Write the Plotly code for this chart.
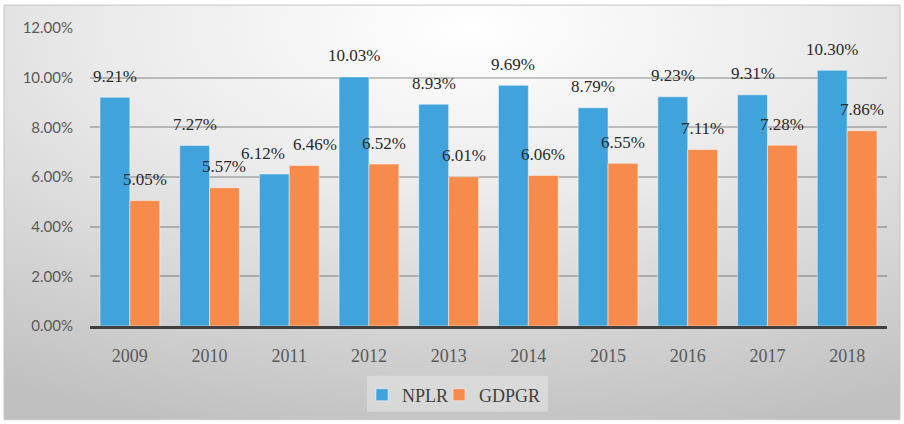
import base64
import plotly.graph_objects as go

# Yearly ratios, in percent
years = ["2009", "2010", "2011", "2012", "2013", "2014", "2015", "2016", "2017", "2018"]
nplr = [9.21, 7.27, 6.12, 10.03, 8.93, 9.69, 8.79, 9.23, 9.31, 10.30]
gdpgr = [5.05, 5.57, 6.46, 6.52, 6.01, 6.06, 6.55, 7.11, 7.28, 7.86]
y_ticks = [0, 2, 4, 6, 8, 10, 12]

W, H = 904, 424
ML, MR, MT, MB = 90, 17, 28, 97
PW, PH = W - ML - MR, H - MT - MB

BLUE = "#40a3db"
ORANGE = "#f68b4b"
SERIF = "Liberation Serif"


def px(x):
    return (x - ML) / PW


def py(y):
    return (H - MB - y) / PH


fig = go.Figure()
for name, vals, col, leg in (("NPLR", nplr, BLUE, "legend"), ("GDPGR", gdpgr, ORANGE, "legend2")):
    fig.add_trace(go.Bar(
        x=years, y=[v / 100 for v in vals], name=name, legend=leg,
        marker=dict(color=col, line=dict(color="rgba(255,255,255,0.6)", width=0.8)),
        hoverinfo="skip",
    ))

# value labels above each bar; labels of near-equal pairs are pushed apart
cat_w = PW / len(years)
bar_off = cat_w * (1 - 0.25) / 4
for i, (a, b) in enumerate(zip(nplr, gdpgr)):
    spread = 11 if abs(a - b) < 1.0 else 0
    for v, dx in ((a, -bar_off - spread), (b, bar_off + spread)):
        fig.add_annotation(
            x=i, y=v / 100, xref="x", yref="y", text=f"{v:.2f}%",
            showarrow=False, xshift=dx, yshift=21, yanchor="middle",
            font=dict(family=SERIF, size=17, color="#2a2a2a"),
        )

# radial gradient panel behind the chart
fx0, fx1, fy0, fy1 = 4, 900, 5, 421
svg = (
    f'<svg xmlns="http://www.w3.org/2000/svg" width="{fx1-fx0}" height="{fy1-fy0}">'
    '<defs><radialGradient id="g" cx="0.52" cy="0.06" r="1.0">'
    '<stop offset="0" stop-color="#ffffff"/>'
    '<stop offset="0.4" stop-color="#ebebeb"/>'
    '<stop offset="1" stop-color="#c0c0c0"/>'
    '</radialGradient></defs>'
    f'<rect width="{fx1-fx0}" height="{fy1-fy0}" fill="url(#g)"/></svg>'
)
src = "data:image/svg+xml;base64," + base64.b64encode(svg.encode()).decode()

fig.add_layout_image(
    source=src, xref="paper", yref="paper",
    x=px(fx0), y=py(fy0), sizex=px(fx1) - px(fx0), sizey=py(fy0) - py(fy1),
    xanchor="left", yanchor="top", sizing="stretch", layer="below",
)
fig.add_shape(
    type="rect", xref="paper", yref="paper", layer="below",
    x0=px(fx0), x1=px(fx1), y0=py(fy1), y1=py(fy0),
    line=dict(color="#c4c4c4", width=1), fillcolor="rgba(0,0,0,0)",
)
# shared legend box
fig.add_shape(
    type="rect", xref="paper", yref="paper", layer="below",
    x0=px(367), x1=px(548), y0=py(413), y1=py(377),
    line=dict(width=0), fillcolor="rgba(255,255,255,0.3)",
)

leg_common = dict(
    orientation="h", xanchor="left", y=py(395), yanchor="middle",
    bgcolor="rgba(0,0,0,0)", font=dict(family=SERIF, size=18, color="#404040"),
    itemwidth=30,
)

fig.update_layout(
    width=W, height=H,
    margin=dict(l=ML, r=MR, t=MT, b=MB, pad=0),
    paper_bgcolor="white", plot_bgcolor="rgba(0,0,0,0)",
    barmode="group", bargap=0.25, bargroupgap=0,
    showlegend=True,
    legend=dict(x=px(362), **leg_common),
    legend2=dict(x=px(439), **leg_common),
    xaxis=dict(
        type="category", showgrid=False, showline=True, linecolor="#404040", linewidth=2.5,
        ticks="", ticklabelstandoff=12,
        tickfont=dict(family=SERIF, size=18, color="#595959"),
    ),
    yaxis=dict(
        range=[0, 0.12], tickvals=[t / 100 for t in y_ticks], tickformat=".2%",
        showgrid=True, gridcolor="rgba(0,0,0,0.22)", gridwidth=1.5,
        zeroline=False, showline=False, ticks="", ticklabelstandoff=16,
        tickfont=dict(family="Lato", size=15, color="#595959"),
    ),
)

fig.write_html("out.html")
